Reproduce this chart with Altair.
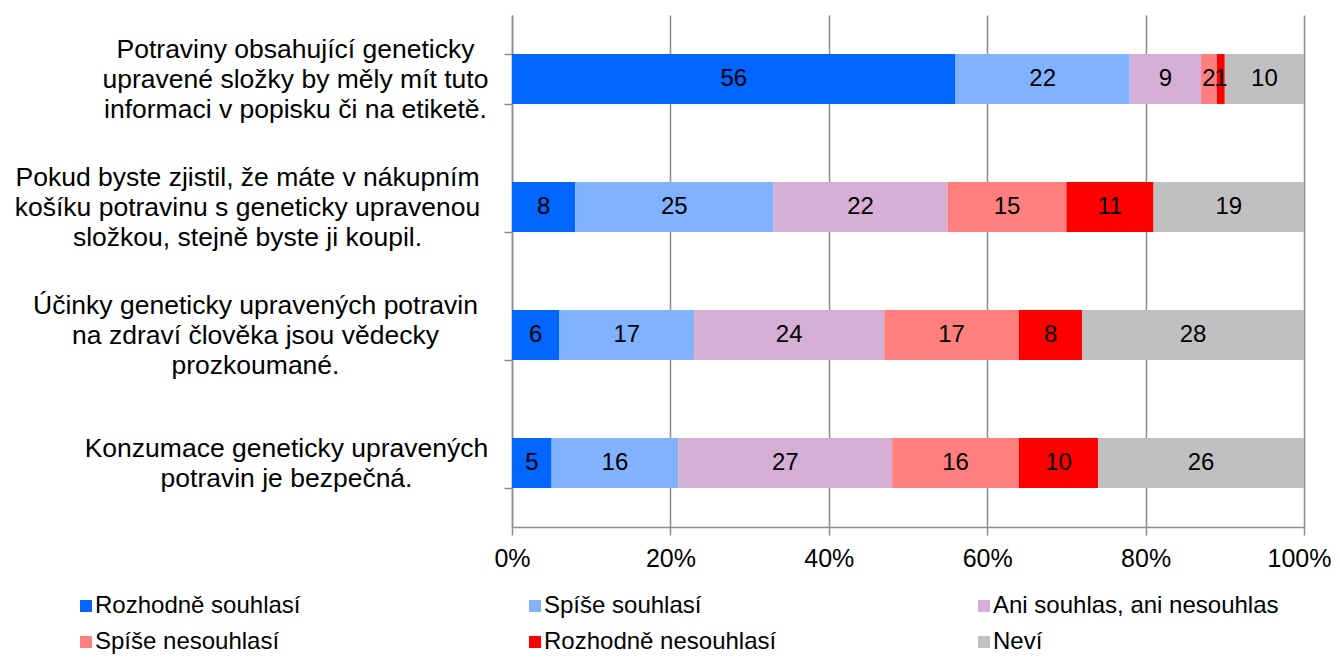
import altair as alt
import pandas as pd

categories = [
    "Potraviny obsahující geneticky|upravené složky by měly mít tuto|informaci v popisku či na etiketě.",
    "Pokud byste zjistil, že máte v nákupním|košíku potravinu s geneticky upravenou|složkou, stejně byste ji koupil.",
    "Účinky geneticky upravených potravin|na zdraví člověka jsou vědecky|prozkoumané.",
    "Konzumace geneticky upravených|potravin je bezpečná.",
]
responses = [
    "Rozhodně souhlasí",
    "Spíše souhlasí",
    "Ani souhlas, ani nesouhlas",
    "Spíše nesouhlasí",
    "Rozhodně nesouhlasí",
    "Neví",
]
colors = ["#0066FF", "#80B2FF", "#D5AFD5", "#FF7F7F", "#FF0000", "#C0C0C0"]

rozhodne_souhlasi = [56, 8, 6, 5]
spise_souhlasi = [22, 25, 17, 16]
ani = [9, 22, 24, 27]
spise_nesouhlasi = [2, 15, 17, 16]
rozhodne_nesouhlasi = [1, 11, 8, 10]
nevi = [10, 19, 28, 26]

series = [rozhodne_souhlasi, spise_souhlasi, ani, spise_nesouhlasi, rozhodne_nesouhlasi, nevi]

rows = []
for ri, (resp, vals) in enumerate(zip(responses, series)):
    for ci, cat in enumerate(categories):
        rows.append({"cat": cat, "resp": resp, "ord": ri, "value": vals[ci]})
df = pd.DataFrame(rows)

FONT = "Liberation Sans"
GRAY = "#8c8c8c"

base = alt.Chart(df).transform_stack(
    stack="value", groupby=["cat"], sort=[alt.SortField("ord")], as_=["x0", "x1"]
).transform_calculate(mid="(datum.x0 + datum.x1) / 2")

# per-label centring of the multi-line category labels
label_padding = {
    "condition": [
        {"test": "substring(datum.value, 0, 4) == 'Potr'", "value": 209},
        {"test": "substring(datum.value, 0, 4) == 'Poku'", "value": 257},
        {"test": "substring(datum.value, 0, 3) == 'Kon'", "value": 218},
    ],
    "value": 249,
}
label_offset = {
    "condition": {"test": "substring(datum.value, 0, 3) == 'Kon'", "value": -15},
    "value": -30,
}

y = alt.Y(
    "cat:N",
    sort=categories,
    scale=alt.Scale(paddingInner=0.61, paddingOuter=0.305),
    axis=alt.Axis(
        title=None,
        labelExpr="split(datum.label, '|')",
        labelFontSize=26.5,
        labelFont=FONT,
        labelColor="black",
        labelLineHeight=30,
        labelAlign="center",
        labelPadding=label_padding,
        labelOffset=label_offset,
        labelLimit=800,
        tickBand="extent",
        tickSize=8,
        tickColor=GRAY,
        tickWidth=1.5,
        domainColor=GRAY,
        domainWidth=1.5,
        grid=False,
    ),
)

xscale = alt.Scale(domain=[0, 100], nice=False)

bars = base.mark_bar().encode(
    x=alt.X(
        "x0:Q",
        scale=xscale,
        axis=alt.Axis(
            title=None,
            values=[0, 20, 40, 60, 80, 100],
            labelExpr="datum.value + '%'",
            labelFontSize=25,
            labelFont=FONT,
            labelColor="black",
            labelPadding=11,
            labelAlign={"condition": {"test": "datum.value == 100", "value": "right"}, "value": "center"},
            labelOffset={"condition": {"test": "datum.value == 100", "value": 27}, "value": 0},
            tickSize=8,
            tickColor=GRAY,
            tickWidth=1.5,
            domainColor=GRAY,
            domainWidth=1.5,
            grid=True,
            gridColor=GRAY,
            gridWidth=1.5,
            labelFlush=False,
        ),
    ),
    x2="x1:Q",
    y=y,
    color=alt.Color(
        "resp:N",
        sort=responses,
        scale=alt.Scale(domain=responses, range=colors),
        legend=alt.Legend(
            title=None,
            orient="none",
            direction="horizontal",
            legendX=-444,
            legendY=579,
            columns=3,
            gridAlign="all",
            columnPadding=136,
            rowPadding=12,
            labelFontSize=24,
            labelFont=FONT,
            labelColor="black",
            labelLimit=500,
            labelOffset=3,
            symbolType="M0,-1H2V1H0Z",
            symbolSize=144,
            symbolStrokeWidth=0,
            symbolOffset=0,
        ),
    ),
)

labels = base.mark_text(font=FONT, fontSize=24, color="black", baseline="middle").encode(
    x=alt.X("mid:Q", scale=xscale),
    y=alt.Y("cat:N", sort=categories),
    text=alt.Text("value:Q"),
)

chart = (
    alt.layer(bars, labels)
    .properties(
        width=792,
        height=512,
        autosize=alt.AutoSizeParams(type="none"),
        padding={"left": 504, "top": 7, "right": 28, "bottom": 142},
    )
    .configure_view(stroke=None)
)

chart.save("out.html", embed_options={"renderer": "svg", "actions": False})
